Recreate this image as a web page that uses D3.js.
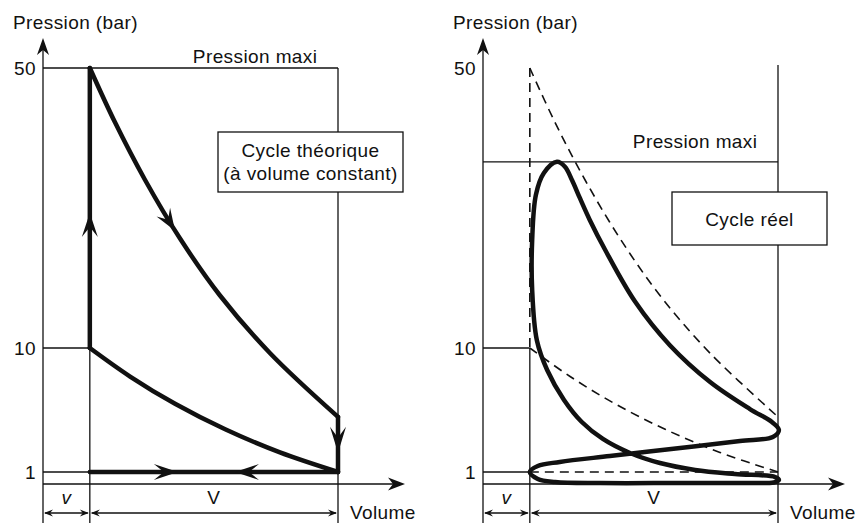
<!DOCTYPE html>
<html>
<head>
<meta charset="utf-8">
<script src="https://cdnjs.cloudflare.com/ajax/libs/d3/7.8.5/d3.min.js"></script>
<style>
  body { margin: 0; background: #fff; }
  svg text { font-family: "Liberation Sans", Arial, sans-serif; font-size: 19px; letter-spacing: 0.4px; fill: #111; }
</style>
</head>
<body>
<svg id="chart" width="855" height="524"></svg>
<script>
// pressure marks on the axis (bar)
var pressureTicks = [1, 10, 50];
// volumes : clearance volume v = 1 unit, v + V = 6.3 units
var volClearance = 1, volTotal = 6.3;
var pMaxTheo = 50, pMaxReal = 36.6;

// theoretical cycle (constant volume)
var expansionV = [1, 1.54, 2.18, 2.93, 3.78, 4.85, 6.3];
var expansionP = [50, 42.2, 34.0, 25.6, 17.5, 9.62, 5.0];
var compressionV = [1, 1.86, 2.82, 3.89, 5.06, 6.3];
var compressionP = [10, 7.93, 5.95, 4.10, 2.42, 1];

// real cycle, closed loop : intake, compression, combustion, expansion, exhaust
var realV = [1.0, 1.17, 1.54, 2.50, 4.21, 5.70, 6.21, 6.32,
             6.24, 5.38, 4.53, 3.78, 3.14, 2.56, 2.11, 1.73, 1.37, 1.15, 1.05, 1.05, 1.13, 1.30,
             1.58,
             1.75, 1.90, 2.07, 2.28, 2.61, 3.25, 3.99, 4.85, 5.70, 6.17, 6.32,
             6.19, 5.49, 4.21, 2.71, 1.64, 1.17];
var realP = [1.0, 0.42, 0.17, 0.08, 0.08, 0.08, 0.13, 0.33,
             0.58, 0.83, 1.15, 1.65, 2.38, 3.40, 4.63, 6.23, 8.40, 11.1, 18.3, 25.4, 31.9, 35.0,
             36.6,
             35.9, 34.0, 31.4, 28.3, 24.0, 16.6, 10.4, 7.53, 5.57, 4.63, 4.05,
             3.54, 3.25, 2.74, 2.16, 1.73, 1.44];

var svg = d3.select("#chart");
var ink = "#111", thin = 1.3, thick = 4.5, dash = "9,6";
var xAxisEnd = 362, yAxisTop = 38, yBottom = 523;

var x = d3.scaleLinear().domain([0, volTotal]).range([0, 295]);
var y = d3.scaleLinear().domain([0, 1, 10, 50]).range([484, 472, 348, 68]);

var curveLine = d3.line().x(d => x(d[0])).y(d => y(d[1])).curve(d3.curveCatmullRom.alpha(0.5));
var loopLine = d3.line().x(d => x(d[0])).y(d => y(d[1])).curve(d3.curveCatmullRomClosed.alpha(0.5));

function pts(vs, ps) { return vs.map(function(v, i) { return [v, ps[i]]; }); }

function seg(g, x1, y1, x2, y2, w, dashed) {
  return g.append("line")
    .attr("x1", x1).attr("y1", y1).attr("x2", x2).attr("y2", y2)
    .attr("stroke", ink).attr("stroke-width", w)
    .attr("stroke-dasharray", dashed ? dash : null);
}

// barbed arrow head, tip at (px,py), pointing along angle
function head(g, px, py, angle, len, half, notch) {
  g.append("path")
    .attr("d", "M0,0L" + (-len) + "," + (-half) + "L" + (-notch) + ",0L" + (-len) + "," + half + "Z")
    .attr("fill", ink)
    .attr("transform", "translate(" + px + "," + py + ") rotate(" + angle + ")");
}

function arrowOnPath(g, node, targetX) {
  var total = node.getTotalLength(), lo = 0, hi = total;
  for (var i = 0; i < 30; i++) {
    var mid = (lo + hi) / 2;
    if (node.getPointAtLength(mid).x < targetX) lo = mid; else hi = mid;
  }
  var p = node.getPointAtLength(lo),
      a = node.getPointAtLength(Math.max(0, lo - 3)),
      b = node.getPointAtLength(Math.min(total, lo + 3));
  head(g, p.x, p.y, Math.atan2(b.y - a.y, b.x - a.x) * 180 / Math.PI, 22, 8, 13);
}

function frame(g) {
  // axes
  seg(g, 0, yBottom, 0, yAxisTop + 10, thin);
  head(g, 0, yAxisTop, -90, 17, 6, 12);
  seg(g, 0, y(0), xAxisEnd - 10, y(0), thin);
  head(g, xAxisEnd, y(0), 0, 17, 6.5, 12);

  g.append("g")
    .call(d3.axisLeft(y).tickValues(pressureTicks).tickSize(0).tickPadding(7).tickFormat(d3.format("d")))
    .call(function(a) { a.select(".domain").remove(); });

  g.append("text").attr("x", -30).attr("y", 29).text("Pression (bar)");
  g.append("text").attr("x", 307).attr("y", 519).text("Volume");

  // v and V dimension arrows
  var dy = 513;
  seg(g, x(0) + 2, dy, x(volClearance) - 2, dy, thin);
  head(g, x(0) + 1, dy, 180, 9, 3.5, 6);
  head(g, x(volClearance) - 1, dy, 0, 9, 3.5, 6);
  seg(g, x(volClearance) + 2, dy, x(volTotal) - 2, dy, thin);
  head(g, x(volClearance) + 1, dy, 180, 9, 3.5, 6);
  head(g, x(volTotal) - 1, dy, 0, 9, 3.5, 6);
  g.append("text").attr("x", x(volClearance / 2)).attr("y", 504)
    .attr("text-anchor", "middle").style("font-style", "italic").text("v");
  g.append("text").attr("x", x((volClearance + volTotal) / 2)).attr("y", 504)
    .attr("text-anchor", "middle").text("V");
}

function box(g, x0, y0, w, h, lines, baselines) {
  g.append("rect").attr("x", x0).attr("y", y0).attr("width", w).attr("height", h)
    .attr("fill", "#fff").attr("stroke", ink).attr("stroke-width", thin);
  lines.forEach(function(t, i) {
    g.append("text").attr("x", x0 + w / 2).attr("y", baselines[i])
      .attr("text-anchor", "middle").text(t);
  });
}

// ---------- left : theoretical cycle ----------
var left = svg.append("g").attr("transform", "translate(43,0)");
seg(left, x(0), y(pMaxTheo), x(volTotal), y(pMaxTheo), thin);
seg(left, x(volTotal), y(pMaxTheo), x(volTotal), yBottom, thin);
seg(left, x(volClearance), y(pMaxTheo), x(volClearance), yBottom, thin);
seg(left, x(0), y(10), x(volClearance), y(10), thin);
seg(left, x(0), y(1), x(volTotal), y(1), thin);
left.append("text").attr("x", x(4.53)).attr("y", y(pMaxTheo) - 5)
  .attr("text-anchor", "middle").text("Pression maxi");
box(left, 175, 132, 185, 60, ["Cycle théorique", "(à volume constant)"], [157, 180]);
frame(left);

var thickG = left.append("g").attr("fill", "none").attr("stroke", ink)
  .attr("stroke-width", thick).attr("stroke-linecap", "round").attr("stroke-linejoin", "round");
thickG.append("line").attr("x1", x(volClearance)).attr("y1", y(compressionP[0]))
  .attr("x2", x(volClearance)).attr("y2", y(pMaxTheo));
var expPath = thickG.append("path").attr("d", curveLine(pts(expansionV, expansionP)));
thickG.append("line").attr("x1", x(volTotal)).attr("y1", y(expansionP[expansionP.length - 1]))
  .attr("x2", x(volTotal)).attr("y2", y(1));
thickG.append("line").attr("x1", x(volClearance)).attr("y1", y(1))
  .attr("x2", x(volTotal)).attr("y2", y(1));
thickG.append("path").attr("d", curveLine(pts(compressionV, compressionP)));

head(left, x(volClearance), y(29.3), -90, 24, 8, 14);
arrowOnPath(left, expPath.node(), x(2.82));
head(left, x(volTotal), y(2.4), 90, 26, 8, 15);
head(left, x(2.88), y(1), 0, 24, 8, 14);
head(left, x(4.1), y(1), 180, 24, 8, 14);

// ---------- right : real cycle ----------
var right = svg.append("g").attr("transform", "translate(483,0)");
seg(right, x(0), y(pMaxReal), x(volTotal), y(pMaxReal), thin);
seg(right, x(volTotal), y(pMaxTheo) - 3, x(volTotal), yBottom, thin);
seg(right, x(volClearance), y(10), x(volClearance), yBottom, thin);
seg(right, x(0), y(10), x(volClearance), y(10), thin);
seg(right, x(0), y(1), x(volClearance), y(1), thin);
right.append("text").attr("x", x(4.53)).attr("y", y(pMaxReal) - 14)
  .attr("text-anchor", "middle").text("Pression maxi");

var dashG = right.append("g").attr("fill", "none").attr("stroke", ink)
  .attr("stroke-width", 1.6).attr("stroke-dasharray", dash);
dashG.append("line").attr("x1", x(volClearance)).attr("y1", y(pMaxTheo))
  .attr("x2", x(volClearance)).attr("y2", y(10));
dashG.append("path").attr("d", curveLine(pts(expansionV, expansionP)));
dashG.append("path").attr("d", curveLine(pts(compressionV, compressionP)));
dashG.append("line").attr("x1", x(volClearance)).attr("y1", y(1))
  .attr("x2", x(volTotal)).attr("y2", y(1));

box(right, 189, 192, 155, 53, ["Cycle réel"], [226]);
frame(right);

right.append("path").attr("d", loopLine(pts(realV, realP)))
  .attr("fill", "none").attr("stroke", ink).attr("stroke-width", thick)
  .attr("stroke-linejoin", "round");
</script>
</body>
</html>
